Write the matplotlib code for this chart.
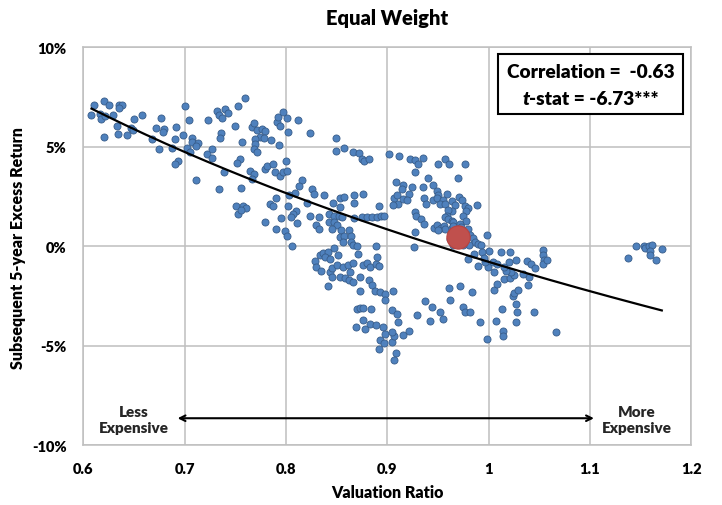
import numpy as np
import matplotlib
matplotlib.use("Agg")
import matplotlib.pyplot as plt
from matplotlib.patches import Rectangle
from matplotlib.ticker import FuncFormatter

# valuation ratio (x) and subsequent 5-year excess return in % (y)
val_ratio = [
    0.610, 0.620, 0.625, 0.635, 0.638, 0.635, 0.608, 0.616, 0.617, 0.621,
    0.629, 0.633, 0.634, 0.643, 0.620, 0.647, 0.649, 0.650, 0.658, 0.677,
    0.672, 0.680, 0.679, 0.691, 0.698, 0.700, 0.704, 0.668, 0.675, 0.690,
    0.687, 0.707, 0.707, 0.713, 0.711, 0.702, 0.705, 0.693, 0.690, 0.711,
    0.722, 0.727, 0.727, 0.739, 0.734, 0.723, 0.732, 0.734, 0.737, 0.740,
    0.743, 0.753, 0.760, 0.750, 0.736, 0.735, 0.757, 0.766, 0.768, 0.771,
    0.776, 0.779, 0.774, 0.778, 0.785, 0.769, 0.769, 0.768, 0.771, 0.755,
    0.752, 0.756, 0.764, 0.768, 0.766, 0.779, 0.781, 0.787, 0.789, 0.794,
    0.797, 0.801, 0.800, 0.802, 0.793, 0.791, 0.794, 0.792, 0.797, 0.801,
    0.751, 0.753, 0.758, 0.761, 0.756, 0.779, 0.784, 0.787, 0.790, 0.795,
    0.790, 0.799, 0.802, 0.801,
    0.812, 0.824, 0.849, 0.849, 0.857, 0.866, 0.872, 0.875, 0.877, 0.882,
    0.902, 0.912, 0.922, 0.927, 0.935, 0.930, 0.927, 0.940, 0.816, 0.813,
    0.809, 0.803, 0.826, 0.828, 0.838, 0.821, 0.810, 0.807, 0.811, 0.805,
    0.824, 0.833, 0.830, 0.833, 0.846, 0.853, 0.857, 0.853, 0.867, 0.876,
    0.867, 0.892, 0.842, 0.847, 0.852, 0.855, 0.842, 0.847, 0.850, 0.845,
    0.854, 0.862, 0.853, 0.857, 0.864, 0.856, 0.864, 0.866, 0.870, 0.867,
    0.875, 0.880, 0.885, 0.890, 0.894, 0.897, 0.909, 0.916, 0.915, 0.924,
    0.907, 0.910, 0.911, 0.906, 0.916, 0.921, 0.919, 0.935, 0.936, 0.938,
    0.927, 0.928, 0.933, 0.936, 0.927,
    0.957, 0.961, 0.950, 0.977, 0.970, 0.945, 0.949, 0.959, 0.950, 0.945,
    0.949, 0.955, 0.952, 0.957, 0.964, 0.967, 0.971, 0.974, 0.977, 0.980,
    0.989, 0.978, 0.975, 0.978, 0.964, 0.960, 0.959, 0.957, 0.960, 0.964,
    0.965, 0.946, 0.949, 0.953, 0.956, 0.957, 0.950, 0.964, 0.965, 0.972,
    0.973, 0.980, 0.982, 0.985, 0.987, 0.981, 0.990, 0.993, 0.998, 0.975,
    0.962, 0.965,
    0.806, 0.829, 0.834, 0.837, 0.841, 0.839, 0.843, 0.847, 0.851, 0.830,
    0.835, 0.843, 0.845, 0.845, 0.841, 0.850, 0.856, 0.861, 0.866, 0.871,
    0.863, 0.853, 0.858, 0.862, 0.866, 0.873, 0.873, 0.876, 0.880, 0.883,
    0.889, 0.892, 0.890, 0.889, 0.882, 0.885, 0.888, 0.893, 0.898, 0.898,
    0.906, 0.870, 0.873, 0.876, 0.884, 0.905, 0.910, 0.911, 0.876, 0.869,
    0.878, 0.883, 0.889, 0.896, 0.898, 0.893, 0.897, 0.905, 0.907, 0.905,
    0.892, 0.909, 0.907, 0.916, 0.921,
    0.926, 0.961, 0.972, 0.984, 0.962, 0.937, 0.944, 0.929, 0.942, 0.952,
    0.955, 0.975, 0.977, 0.982, 0.992, 0.998, 1.007, 1.013, 1.014, 1.014,
    1.027, 1.028, 1.027, 1.024, 1.025, 1.029, 1.045, 1.067, 1.005, 1.008,
    1.015, 1.021, 1.039, 1.040, 1.034, 1.025, 1.022, 1.017, 1.015, 1.020,
    1.027, 1.005, 0.999, 0.996, 1.004, 1.008, 1.012, 1.021, 1.000, 0.990,
    0.980, 0.986, 0.994, 1.038, 1.042, 1.046, 1.054, 1.054, 1.055, 1.054,
    0.995, 1.058,
    1.138, 1.146, 1.153, 1.154, 1.158, 1.161, 1.159, 1.159, 1.165, 1.171,
]
excess_ret = [
    7.13, 7.30, 7.10, 7.13, 7.13, 6.95, 6.61, 6.66, 6.41, 6.58,
    6.60, 6.03, 5.64, 5.61, 5.49, 5.96, 5.86, 6.41, 6.63, 6.46,
    5.93, 5.91, 5.74, 6.01, 5.61, 7.05, 6.35, 5.41, 4.89, 5.39,
    4.94, 5.47, 5.24, 5.19, 5.04, 4.94, 4.74, 4.27, 4.13, 3.33,
    4.65, 4.90, 4.44, 3.76, 2.89, 6.36, 6.83, 6.61, 6.46, 6.92,
    6.70, 7.05, 7.45, 6.05, 5.71, 5.44, 5.24, 6.00, 6.21, 5.83,
    5.88, 5.79, 5.49, 5.44, 5.37, 5.41, 5.16, 4.90, 4.74, 4.40,
    4.20, 2.93, 3.81, 3.65, 3.40, 3.90, 4.06, 4.15, 3.73, 3.56,
    3.73, 3.81, 4.27, 5.74, 5.11, 6.25, 6.05, 6.50, 6.78, 6.45,
    2.02, 1.63, 2.05, 1.92, 1.85, 1.22, 2.14, 2.02, 2.42, 1.42,
    0.88, 0.79, 2.02, 0.54,
    6.36, 5.71, 5.44, 4.79, 4.95, 4.77, 4.70, 4.40, 4.27, 4.40,
    4.62, 4.52, 4.40, 4.35, 4.45, 4.12, 3.73, 3.43, 3.36, 3.03,
    2.69, 2.56, 2.89, 2.64, 2.56, 2.17, 1.80, 1.63, 1.18, 1.47,
    1.52, 1.47, 1.10, 0.88, 2.19, 2.42, 2.47, 1.97, 2.59, 2.61,
    2.19, 2.02, 1.63, 1.55, 1.55, 1.47, 1.25, 1.25, 1.08, 0.85,
    0.80, 0.80, 0.46, 0.51, 0.54, 0.24, 0.24, 0.08, 0.04, 1.42,
    1.47, 1.47, 1.47, 1.47, 1.52, 1.52, 3.26, 3.11, 2.86, 2.98,
    2.44, 2.56, 2.14, 2.09, 2.39, 2.64, 2.35, 2.98, 2.42, 2.14,
    1.72, 1.52, 1.38, 1.13, 0.74,
    4.37, 4.15, 4.15, 4.15, 3.45, 3.11, 2.76, 2.64, 2.56, 2.34,
    2.42, 2.34, 2.14, 2.14, 2.27, 2.09, 2.47, 2.34, 2.05, 1.92,
    2.09, 1.80, 1.55, 1.30, 1.80, 1.84, 1.55, 1.47, 1.38, 1.30,
    1.22, 0.92, 1.08, 0.92, 1.02, 0.85, 0.80, 0.92, 1.02, 1.13,
    0.97, 0.88, 0.58, 0.41, 0.21, 0.08, 0.13, 0.08, 0.58, 0.08,
    0.38, 0.08,
    0.01, -0.75, -0.43, -0.33, -0.26, -0.54, -0.63, -0.08, -0.43, -1.05,
    -1.25, -1.30, -1.10, -1.55, -1.97, -0.93, -1.02, -0.92, -0.85, -0.38,
    -1.30, -1.52, -1.60, -1.67, -1.80, -1.52, -2.22, -0.93, -0.85, -1.05,
    -0.88, -0.97, -0.54, 0.01, -1.67, -1.94, -2.22, -2.31, -2.39, -2.69,
    -2.22, -3.14, -3.11, -3.09, -3.14, -3.18, -3.40, -3.78, -3.70, -4.03,
    -4.15, -3.90, -3.95, -4.07, -4.40, -4.70, -4.87, -4.82, -4.49, -4.32,
    -5.16, -5.37, -5.71, -4.45, -4.23,
    -0.04, -2.10, -1.97, -2.27, -2.72, -2.76, -3.03, -3.45, -3.76, -3.31,
    -3.65, -3.06, -3.28, -3.31, -3.78, -4.65, -3.73, -3.14, -4.23, -4.52,
    -3.78, -3.28, -2.89, -2.51, -2.36, -2.19, -3.31, -4.32, -2.17, -1.89,
    -1.63, -1.60, -1.94, -1.52, -1.38, -1.43, -1.30, -1.22, -1.02, -0.76,
    -0.66, -1.30, -1.05, -0.76, -0.80, -0.88, -0.29, -0.26, -0.21, -1.00,
    -0.63, -0.38, -0.29, -0.71, -0.88, -1.10, -0.16, -0.41, -0.66, -0.88,
    -0.59, -0.66,
    -0.58, 0.01, 0.01, -0.09, 0.01, 0.09, -0.21, -0.43, -0.68, -0.13,
]

# current reading (highlighted red dot)
current_ratio = [0.970]
current_ret = [0.46]

x_ticks = [0.6, 0.7, 0.8, 0.9, 1.0, 1.1, 1.2]
y_ticks = [-10, -5, 0, 5, 10]

plt.rcParams['font.family'] = ['Lato', 'DejaVu Sans']
W = 'heavy'

fig = plt.figure(figsize=(7.22, 5.06), dpi=100)
ax = fig.add_axes([0.1155, 0.118, 0.8418, 0.7862])

ax.set_xlim(0.6, 1.2)
ax.set_ylim(-10, 10)
ax.set_xticks(x_ticks)
ax.set_yticks(y_ticks)
ax.xaxis.set_major_formatter(FuncFormatter(lambda v, p: f"{v:g}"))
ax.yaxis.set_major_formatter(FuncFormatter(lambda v, p: f"{v:.0f}%"))
ax.tick_params(length=0, labelsize=10.5, pad=12)
for lab in ax.get_xticklabels() + ax.get_yticklabels():
    lab.set_fontweight(W)

ax.grid(True, color='#BFBFBF', linewidth=1.1)
ax.set_axisbelow(True)
for sp in ax.spines.values():
    sp.set_color('#BFBFBF')
    sp.set_linewidth(1.1)

ax.scatter(val_ratio, excess_ret, s=26, color='#4F81BD', edgecolors='#385D8A',
           linewidths=0.6, zorder=3)

# logarithmic trendline fitted to the points
xs = np.array(val_ratio)
b, a = np.polyfit(np.log(xs), np.array(excess_ret), 1)
xx = np.linspace(xs.min(), xs.max(), 200)
ax.plot(xx, a + b * np.log(xx), color='black', linewidth=1.6, zorder=4)

ax.scatter(current_ratio, current_ret, s=280, color='#C0504D', edgecolors='#B8433F',
           linewidths=0.8, zorder=5)

# stats box
ax.add_patch(Rectangle((0.682, 0.833), 0.3045, 0.1507, transform=ax.transAxes,
                       facecolor='white', edgecolor='black', linewidth=1.5, zorder=6))
ax.text(0.8343, 0.9384, "Correlation =  -0.63", transform=ax.transAxes,
        ha='center', va='center', fontsize=13.8, fontweight=W, zorder=7)
t1 = ax.text(0.0, 0.8705, "t", transform=ax.transAxes, ha='left', va='center',
             fontsize=13.8, fontweight=W, style='italic', zorder=7)
t2 = ax.annotate("-stat = -6.73***", xy=(1, 0), xycoords=t1, ha='left', va='bottom',
                 fontsize=13.8, fontweight=W, zorder=7)
fig.canvas.draw()
r = fig.canvas.get_renderer()
w = (t1.get_window_extent(r).width + t2.get_window_extent(r).width)
w_ax = w / ax.get_window_extent(r).width
t1.set_x(0.8343 - w_ax / 2)

# expensive / cheap arrow
ax.annotate("", xy=(0.693, -8.64), xytext=(1.104, -8.64),
            arrowprops=dict(arrowstyle='<->', color='black', linewidth=1.5,
                            shrinkA=0, shrinkB=0), zorder=6)
ax.text(0.650, -8.7, "Less\nExpensive", ha='center', va='center', fontsize=11,
        fontweight=W, color='#262626', linespacing=1.3)
ax.text(1.146, -8.7, "More\nExpensive", ha='center', va='center', fontsize=11,
        fontweight=W, color='#262626', linespacing=1.3)

fig.text(0.536, 0.964, "Equal Weight", ha='center', va='center', fontsize=14.5,
         fontweight=W)
fig.text(0.536, 0.026, "Valuation Ratio", ha='center', va='center', fontsize=11.5,
         fontweight=W)
fig.text(0.025, 0.51, "Subsequent 5-year Excess Return", ha='center', va='center',
         rotation=90, fontsize=11.5, fontweight=W)

fig.savefig("out.png", dpi=100)
